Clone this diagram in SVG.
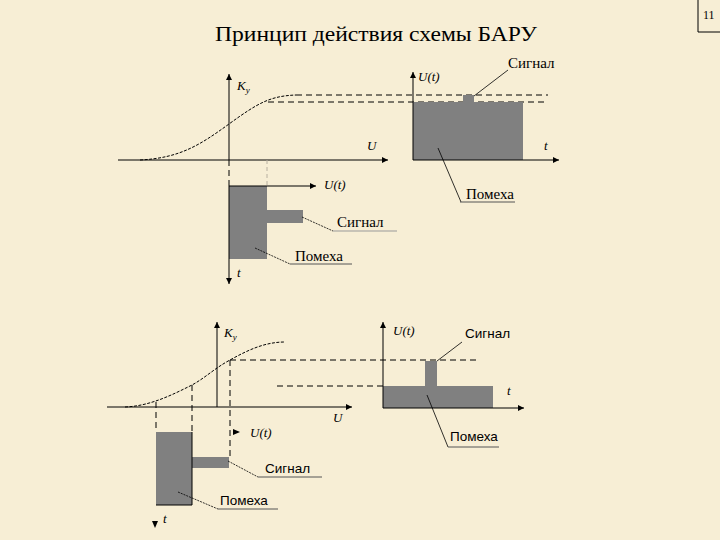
<svg xmlns="http://www.w3.org/2000/svg" width="720" height="540" viewBox="0 0 720 540">
<defs>
<marker id="arr" viewBox="0 0 10 10" refX="10" refY="5" markerWidth="9" markerHeight="6" orient="auto" markerUnits="userSpaceOnUse"><path d="M0,0 L10,5 L0,10 z" fill="#000"/></marker>
<style>
.ax{stroke:#000;stroke-width:1;fill:none}
.dash{stroke:#000;stroke-width:1;fill:none;stroke-dasharray:6,4}
.curve{stroke:#000;stroke-width:1;fill:none;stroke-dasharray:3,1.5}
.lead{stroke:#000;stroke-width:0.8;fill:none}
.dot{stroke:#000;stroke-width:0.8;fill:none;stroke-dasharray:2,1}
.ul{stroke:#555;stroke-width:1;fill:none}
.blk{fill:#808080}
</style>
</defs>
<rect width="720" height="540" fill="#f7eed5"/>
<g id="page-number">
<path d="M698,0 V32 H720" class="ax"/>
<text x="703" y="19" font-family="'Liberation Serif',serif" font-size="12" fill="#000">11</text>
</g>
<text id="title" x="215" y="41" font-family="'Liberation Serif','Times New Roman',serif" font-size="22" textLength="322" lengthAdjust="spacingAndGlyphs" fill="#000">Принцип действия схемы БАРУ</text>

<g id="top-characteristic">
<line x1="118" y1="160" x2="388" y2="160" class="ax" marker-end="url(#arr)"/>
<line x1="229" y1="160" x2="229" y2="74" class="ax" marker-end="url(#arr)"/>
<path d="M140,160 C180,158 200,145 229,124 S270,96 296,95" class="curve"/>
<line x1="296" y1="95" x2="548" y2="95" class="dash"/>
<line x1="268" y1="102" x2="548" y2="102" class="dash"/>
<text x="237" y="90" font-family="'Liberation Serif',serif" font-style="italic" font-size="13" fill="#000">K<tspan font-size="9" dy="3">у</tspan></text>
<text x="367" y="150" font-family="'Liberation Serif',serif" font-style="italic" font-size="13" fill="#000">U</text>
</g>

<g id="top-output">
<rect x="413" y="102" width="110" height="58" class="blk"/>
<rect x="463" y="95" width="11" height="7" class="blk"/>
<line x1="413" y1="160" x2="413" y2="72" class="ax" marker-end="url(#arr)"/>
<line x1="413" y1="160" x2="559" y2="160" class="ax" marker-end="url(#arr)"/>
<text x="418" y="81" font-family="'Liberation Serif',serif" font-style="italic" font-size="13" fill="#000">U(t)</text>
<text x="544" y="150" font-family="'Liberation Serif',serif" font-style="italic" font-size="13" fill="#000">t</text>
<text x="508" y="68" font-family="'Liberation Serif',serif" font-size="15" fill="#000">Сигнал</text>
<text x="466" y="199" font-family="'Liberation Serif',serif" font-size="15" fill="#000">Помеха</text>
</g>

<g id="top-input">
<rect x="229" y="186" width="38" height="73" class="blk"/>
<rect x="267" y="210" width="36" height="13" class="blk"/>
<line x1="229" y1="160" x2="229" y2="186" class="dash" stroke-dasharray="4,3"/>
<line x1="267" y1="160" x2="267" y2="186" stroke="#b8b0a0" stroke-width="1" stroke-dasharray="4,3"/>
<line x1="229" y1="186" x2="316" y2="186" class="ax" marker-end="url(#arr)"/>
<line x1="229" y1="186" x2="229" y2="284" class="ax" marker-end="url(#arr)"/>
<text x="324" y="189" font-family="'Liberation Serif',serif" font-style="italic" font-size="13" fill="#000">U(t)</text>
<text x="237" y="277" font-family="'Liberation Serif',serif" font-style="italic" font-size="13" fill="#000">t</text>
<text x="337" y="227" font-family="'Liberation Serif',serif" font-size="15" fill="#000">Сигнал</text>
<text x="295" y="261" font-family="'Liberation Serif',serif" font-size="15" fill="#000">Помеха</text>
</g>

<g id="bottom-characteristic">
<line x1="107" y1="407" x2="352" y2="407" class="ax" marker-end="url(#arr)"/>
<line x1="217" y1="407" x2="217" y2="322" class="ax" marker-end="url(#arr)"/>
<path d="M125,407 C150,406 172,395 192,385 C205,378 215,368 230,360 C248,350 265,342 285,342" class="curve"/>
<line x1="230" y1="360" x2="476" y2="360" class="dash"/>
<line x1="277" y1="386" x2="383" y2="386" class="dash"/>
<line x1="156" y1="402" x2="156" y2="432" class="dash" stroke-dasharray="4,3"/>
<line x1="192" y1="385" x2="192" y2="432" class="dash" stroke-dasharray="4,3"/>
<line x1="230" y1="360" x2="230" y2="457" class="dash" stroke-dasharray="4,3"/>
<text x="224" y="337" font-family="'Liberation Serif',serif" font-style="italic" font-size="13" fill="#000">K<tspan font-size="9" dy="3">у</tspan></text>
<text x="333" y="422" font-family="'Liberation Serif',serif" font-style="italic" font-size="13" fill="#000">U</text>
</g>

<g id="bottom-input">
<rect x="156" y="432" width="36" height="73" class="blk"/>
<rect x="192" y="457" width="37" height="11" class="blk"/>
<line x1="156" y1="505" x2="192" y2="505" class="ax"/>
<line x1="192" y1="432" x2="192" y2="505" class="ax"/>
<polygon points="233,429 240,432 233,435" fill="#000"/>
<polygon points="152,521 158,521 155,528" fill="#000"/>
<text x="250" y="437" font-family="'Liberation Serif',serif" font-style="italic" font-size="13" fill="#000">U(t)</text>
<text x="163" y="523" font-family="'Liberation Serif',serif" font-style="italic" font-size="13" fill="#000">t</text>
<text x="265" y="473" font-family="'Liberation Sans',sans-serif" font-size="13.5" fill="#000">Сигнал</text>
<text x="220" y="505" font-family="'Liberation Sans',sans-serif" font-size="13.5" fill="#000">Помеха</text>
</g>

<g id="bottom-output">
<rect x="383" y="386" width="110" height="22" class="blk"/>
<rect x="425" y="361" width="12" height="25" class="blk"/>
<line x1="383" y1="408" x2="383" y2="322" class="ax" marker-end="url(#arr)"/>
<line x1="383" y1="408" x2="524" y2="408" class="ax" marker-end="url(#arr)"/>
<text x="393" y="335" font-family="'Liberation Serif',serif" font-style="italic" font-size="13" fill="#000">U(t)</text>
<text x="507" y="395" font-family="'Liberation Serif',serif" font-style="italic" font-size="13" fill="#000">t</text>
<text x="465" y="338" font-family="'Liberation Sans',sans-serif" font-size="13.5" fill="#000">Сигнал</text>
<text x="450" y="441" font-family="'Liberation Sans',sans-serif" font-size="13.5" fill="#000">Помеха</text>
</g>

<g id="connectors">
<line x1="474" y1="96" x2="508" y2="70" class="lead"/>
<line x1="438" y1="148" x2="461" y2="202" class="lead"/>
<line x1="460" y1="202" x2="515" y2="202" class="ul"/>
<line x1="302" y1="217" x2="333" y2="231" class="dot"/>
<line x1="333" y1="231" x2="397" y2="231" stroke="#999" stroke-width="1"/>
<line x1="255" y1="248" x2="290" y2="264" class="dot"/>
<line x1="290" y1="264" x2="352" y2="264" class="ul"/>
<line x1="228" y1="461" x2="258" y2="477" class="dot"/>
<line x1="258" y1="477" x2="322" y2="477" class="ul"/>
<line x1="178" y1="492" x2="218" y2="509" class="dot"/>
<line x1="218" y1="509" x2="278" y2="509" class="ul"/>
<line x1="437" y1="361" x2="462" y2="342" class="lead"/>
<line x1="427" y1="395" x2="448" y2="447" class="lead"/>
<line x1="448" y1="447" x2="499" y2="447" class="ul"/>
</g>
</svg>
